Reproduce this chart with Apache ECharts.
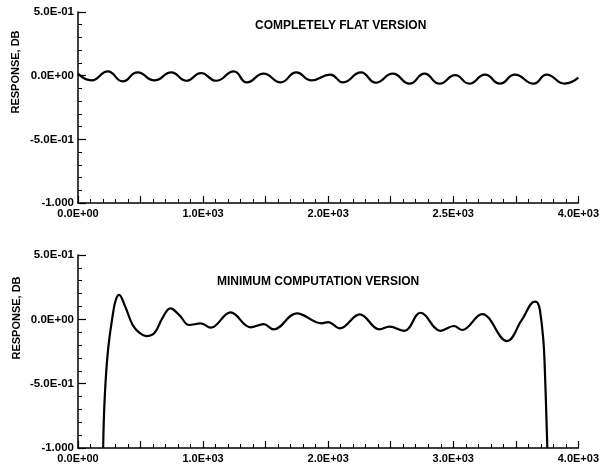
<!DOCTYPE html>
<html><head><meta charset="utf-8">
<script src="https://cdn.jsdelivr.net/npm/echarts@6/dist/echarts.min.js"></script>
<style>html,body{margin:0;padding:0;background:#fff}#c{width:602px;height:472px}</style>
</head><body><div id="c"></div>
<script>
// ---- data ----
const topTitle = 'COMPLETELY FLAT VERSION';
const bottomTitle = 'MINIMUM COMPUTATION VERSION';
const yName = 'RESPONSE, DB';

const topFreq = [0,109,238,357,476,611,746,865,984,1103,1246,1349,1484,1619,1746,1865,2016,2119,2262,2381,2516,2651,2770,2889,3016,3127,3254,3373,3492,3643,3746,3889,4000];
const topResp = [0.016,-0.037,0.034,-0.045,0.026,-0.037,0.026,-0.040,0.021,-0.040,0.034,-0.053,0.016,-0.053,0.026,-0.037,0.008,-0.053,0.026,-0.055,0.016,-0.063,0.016,-0.063,0.004,-0.063,0.008,-0.063,0.008,-0.063,0.008,-0.063,-0.016];

const botFreq = [201,214,240,280,302,328,373,437,492,545,611,675,738,810,889,982,1061,1220,1379,1484,1564,1749,1947,2000,2093,2252,2410,2490,2609,2738,2899,3005,3071,3230,3429,3548,3653,3675,3693,3720,3733,3752];
const botResp = [-1.0,-0.60,-0.24,0.047,0.15,0.19,0.11,-0.044,-0.106,-0.13,-0.106,0.01,0.085,0.033,-0.044,-0.031,-0.065,0.054,-0.062,-0.037,-0.078,0.047,-0.031,-0.021,-0.07,0.039,-0.078,-0.057,-0.089,0.051,-0.089,-0.052,-0.083,0.041,-0.169,-0.005,0.137,0.127,0.072,-0.16,-0.417,-1.0];

const yTickValues = [0.5, 0, -0.5, -1];
const yTickLabels = ['5.0E-01', '0.0E+00', '-5.0E-01', '-1.000'];
const topXTickValues = [0, 1000, 2000, 3000, 4000];
const topXTickLabels = ['0.0E+00', '1.0E+03', '2.0E+03', '2.5E+03', '4.0E+03'];
const botXTickValues = [0, 1000, 2000, 3000, 4000];
const botXTickLabels = ['0.0E+00', '1.0E+03', '2.0E+03', '3.0E+03', '4.0E+03'];

// ---- chart ----
const FONT = '"Liberation Sans", Arial, sans-serif';
function pick(vals, labs) {
  return function (v) {
    for (let i = 0; i < vals.length; i++) if (Math.abs(vals[i] - v) < 1e-6) return labs[i];
    return '';
  };
}
function xAxisCfg(gi, vals, labs) {
  return {
    type: 'value', gridIndex: gi, min: 0, max: 4000, interval: 500,
    axisLine: { onZero: false, lineStyle: { color: '#000', width: 1.5 } },
    axisTick: { inside: true, length: 7, lineStyle: { color: '#000', width: 1.2 } },
    minorTick: { show: true, splitNumber: 5, length: 4, lineStyle: { color: '#000', width: 1 } },
    splitLine: { show: false },
    axisLabel: { formatter: pick(vals, labs), color: '#000', fontFamily: FONT, fontWeight: 'bold', fontSize: 11, margin: 5, showMaxLabel: true, showMinLabel: true, hideOverlap: false }
  };
}
function yAxisCfg(gi) {
  return {
    type: 'value', gridIndex: gi, min: -1, max: 0.5, interval: 0.5,
    axisLine: { show: true, onZero: false, lineStyle: { color: '#000', width: 1.5 } },
    axisTick: { show: true, inside: true, length: 8, lineStyle: { color: '#000', width: 1.2 } },
    minorTick: { show: true, splitNumber: 5, length: 4, lineStyle: { color: '#000', width: 1 } },
    splitLine: { show: false },
    axisLabel: { formatter: pick(yTickValues, yTickLabels), color: '#000', fontFamily: FONT, fontWeight: 'bold', fontSize: 11.5, margin: 4 }
  };
}
const chart = echarts.init(document.getElementById('c'), null, { renderer: 'canvas' });
chart.setOption({
  backgroundColor: '#fff',
  animation: false,
  grid: [
    { left: 78, right: 20, top: 12, height: 191 },
    { left: 78, right: 20, top: 255, height: 193 }
  ],
  xAxis: [xAxisCfg(0, topXTickValues, topXTickLabels), xAxisCfg(1, botXTickValues, botXTickLabels)],
  yAxis: [yAxisCfg(0), yAxisCfg(1)],
  graphic: [
    { type: 'text', left: 255, top: 20, style: { text: topTitle, font: 'bold 12px ' + FONT, fill: '#000' } },
    { type: 'text', left: 217, top: 276, style: { text: bottomTitle, font: 'bold 12px ' + FONT, fill: '#000' } },
    { type: 'text', x: 16, y: 72, rotation: Math.PI / 2, style: { text: yName, font: 'bold 11px ' + FONT, fill: '#000', align: 'center', verticalAlign: 'middle' } },
    { type: 'text', x: 17, y: 318, rotation: Math.PI / 2, style: { text: yName, font: 'bold 11px ' + FONT, fill: '#000', align: 'center', verticalAlign: 'middle' } }
  ],
  series: [
    { type: 'line', xAxisIndex: 0, yAxisIndex: 0, data: topFreq.map((f, i) => [f, topResp[i]]), showSymbol: false, smooth: 0.5, lineStyle: { color: '#000', width: 2.2 } },
    { type: 'line', xAxisIndex: 1, yAxisIndex: 1, data: botFreq.map((f, i) => [f, botResp[i]]), showSymbol: false, smooth: 0.4, lineStyle: { color: '#000', width: 2.2 } }
  ]
});
</script></body></html>
